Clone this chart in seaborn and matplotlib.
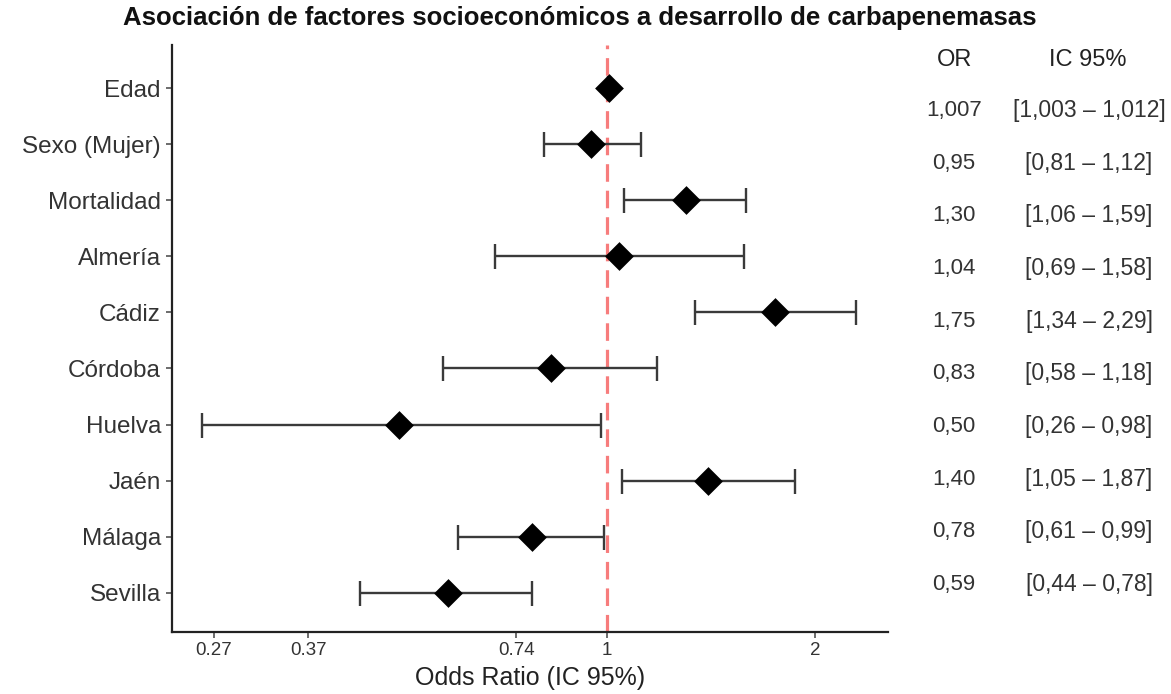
import numpy as np
import pandas as pd
import matplotlib
matplotlib.use("Agg")
import matplotlib.pyplot as plt
import seaborn as sns

# data
factores = ["Edad", "Sexo (Mujer)", "Mortalidad", "Almería", "Cádiz",
            "Córdoba", "Huelva", "Jaén", "Málaga", "Sevilla"]
odds_ratio = [1.007, 0.95, 1.30, 1.04, 1.75, 0.83, 0.50, 1.40, 0.78, 0.59]
ic_inf = [1.003, 0.81, 1.06, 0.69, 1.34, 0.58, 0.26, 1.05, 0.61, 0.44]
ic_sup = [1.012, 1.12, 1.59, 1.58, 2.29, 1.18, 0.98, 1.87, 0.99, 0.78]
or_txt = ["1,007", "0,95", "1,30", "1,04", "1,75", "0,83", "0,50", "1,40", "0,78", "0,59"]
ic_txt = ["[1,003 – 1,012]", "[0,81 – 1,12]", "[1,06 – 1,59]", "[0,69 – 1,58]",
          "[1,34 – 2,29]", "[0,58 – 1,18]", "[0,26 – 0,98]", "[1,05 – 1,87]",
          "[0,61 – 0,99]", "[0,44 – 0,78]"]
x_ticks = [0.27, 0.37, 0.74, 1, 2]
x_tick_labels = ["0.27", "0.37", "0.74", "1", "2"]

df = pd.DataFrame({"factor": factores, "OR": odds_ratio, "lo": ic_inf, "hi": ic_sup})
df["pos"] = np.arange(len(df))

sns.set_theme(style="ticks")
plt.rcParams["font.family"] = ["Liberation Sans", "DejaVu Sans"]

fig = plt.figure(figsize=(11.71, 6.94), dpi=100)
ax = fig.add_axes([172 / 1171, 62 / 694, (888 - 172) / 1171, (632 - 45) / 694])

ax.set_xscale("log")

# reference line at OR = 1
ax.axvline(1, color="#F77C7C", lw=2.3, dashes=(5.5, 2.8), zorder=1)

# confidence intervals
ax.errorbar(df["OR"], df["pos"],
            xerr=[df["OR"] - df["lo"], df["hi"] - df["OR"]],
            fmt="none", ecolor="#3a3a3a", elinewidth=1.7,
            capsize=9, capthick=1.7, zorder=2)

# point estimates
sns.scatterplot(data=df, x="OR", y="pos", marker="D", s=215,
                color="black", edgecolor="black", linewidth=0, zorder=3, ax=ax)

ax.set_xlim(0.235, 2.55)
ax.set_ylim(len(df) - 1 + 0.7, -0.77)
ax.set_yticks(df["pos"])
ax.set_yticklabels(df["factor"], fontsize=17.5, color="#333333")
ax.set_xticks(x_ticks)
ax.set_xticklabels(x_tick_labels, fontsize=13.5, color="#333333")
ax.minorticks_off()
ax.set_xlabel("Odds Ratio (IC 95%)", fontsize=18, color="#222222", labelpad=5)
ax.set_ylabel("")

for side in ["top", "right"]:
    ax.spines[side].set_visible(False)
for side in ["left", "bottom"]:
    ax.spines[side].set_linewidth(1.6)
    ax.spines[side].set_color("#222222")
ax.tick_params(axis="both", length=4, width=1.1, color="#444444", pad=3)
ax.tick_params(axis="y", pad=4)

fig.text(580 / 1171, 1 - 18 / 694,
         "Asociación de factores socioeconómicos a desarrollo de carbapenemasas",
         ha="center", va="center", fontsize=18.5, fontweight="bold", color="#111111")

# table of OR and IC on the right
fig.text(955 / 1171, 1 - 58 / 694, "OR", ha="center", va="center_baseline",
         fontsize=17, color="#222222")
fig.text(1088 / 1171, 1 - 58 / 694, "IC 95%", ha="center", va="center_baseline",
         fontsize=17, color="#222222")
row_y = np.linspace(108, 582, len(df))
for y, o, ic in zip(row_y, or_txt, ic_txt):
    fig.text(954 / 1171, 1 - y / 694, o, ha="center", va="center_baseline",
             fontsize=16, color="#333333")
    fig.text(1089 / 1171, 1 - y / 694, ic, ha="center", va="center_baseline",
             fontsize=16.5, color="#333333")

fig.savefig("out.png", dpi=100, facecolor="white")
